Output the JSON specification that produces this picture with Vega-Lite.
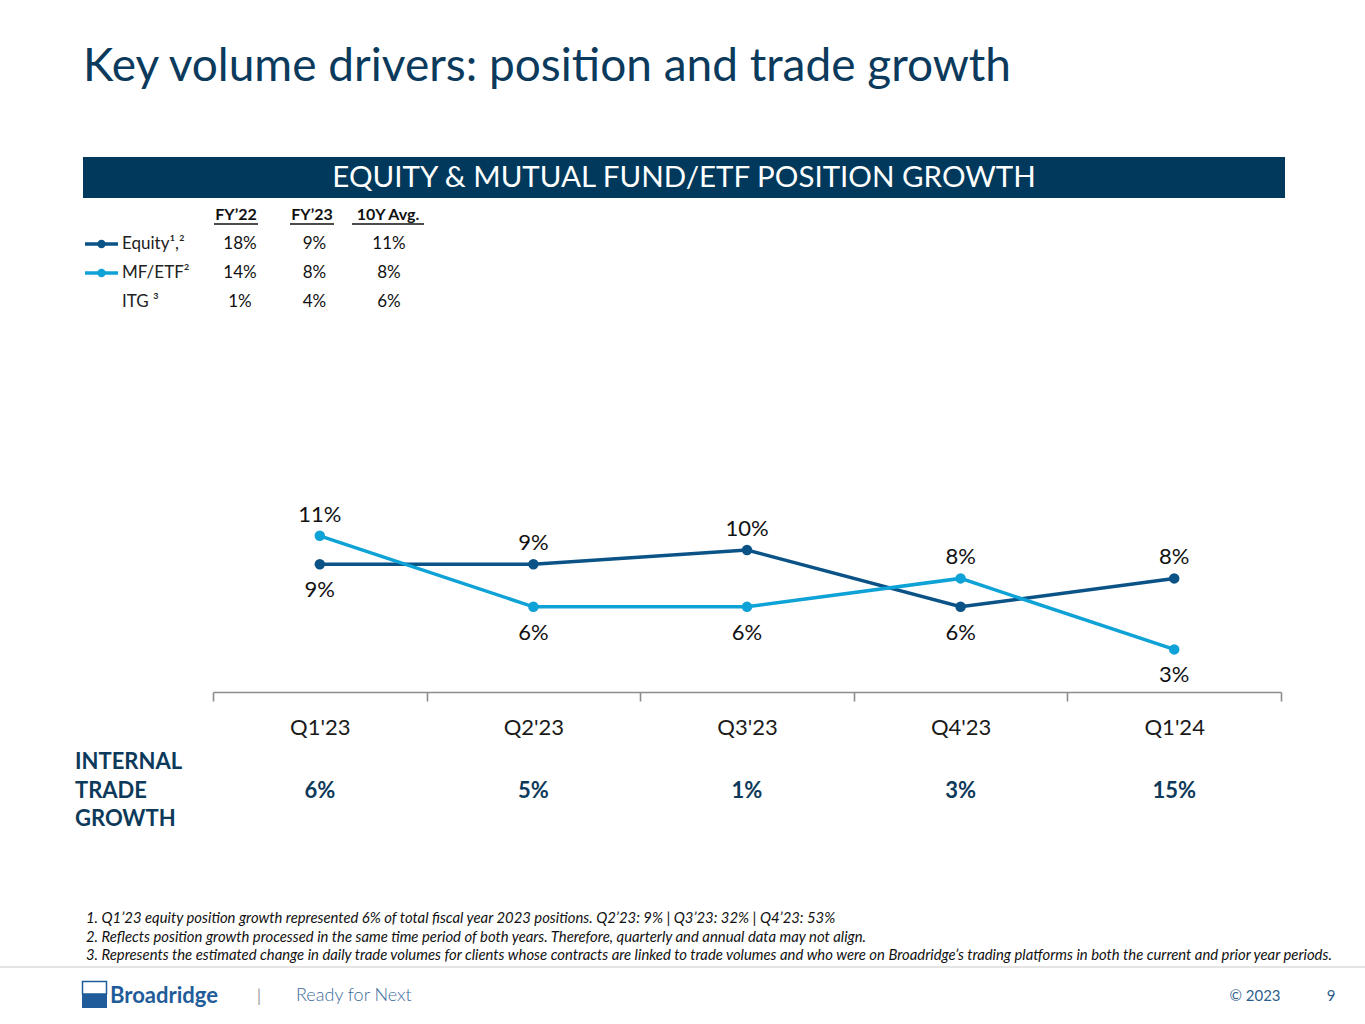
{
  "$schema": "https://vega.github.io/schema/vega-lite/v6.json",
  "width": 1365,
  "height": 1024,
  "padding": 0,
  "autosize": "none",
  "background": "white",
  "config": {
    "view": {"stroke": null},
    "text": {"font": "Lato"},
    "axis": {"labelFont": "Lato"}
  },
  "datasets": {
    "positions": [
      {"quarter": "Q1'23", "series": "Equity", "growth": 0.09},
      {"quarter": "Q2'23", "series": "Equity", "growth": 0.09},
      {"quarter": "Q3'23", "series": "Equity", "growth": 0.10},
      {"quarter": "Q4'23", "series": "Equity", "growth": 0.06},
      {"quarter": "Q1'24", "series": "Equity", "growth": 0.08},
      {"quarter": "Q1'23", "series": "MF/ETF", "growth": 0.11},
      {"quarter": "Q2'23", "series": "MF/ETF", "growth": 0.06},
      {"quarter": "Q3'23", "series": "MF/ETF", "growth": 0.06},
      {"quarter": "Q4'23", "series": "MF/ETF", "growth": 0.08},
      {"quarter": "Q1'24", "series": "MF/ETF", "growth": 0.03}
    ],
    "trade": [
      {"quarter": "Q1'23", "itg": 0.06},
      {"quarter": "Q2'23", "itg": 0.05},
      {"quarter": "Q3'23", "itg": 0.01},
      {"quarter": "Q4'23", "itg": 0.03},
      {"quarter": "Q1'24", "itg": 0.15}
    ],
    "fiscal": [
      {"series": "Equity", "label": "Equity¹,²", "period": "FY’22", "growth": 0.18},
      {"series": "Equity", "label": "Equity¹,²", "period": "FY’23", "growth": 0.09},
      {"series": "Equity", "label": "Equity¹,²", "period": "10Y Avg.", "growth": 0.11},
      {"series": "MF/ETF", "label": "MF/ETF²", "period": "FY’22", "growth": 0.14},
      {"series": "MF/ETF", "label": "MF/ETF²", "period": "FY’23", "growth": 0.08},
      {"series": "MF/ETF", "label": "MF/ETF²", "period": "10Y Avg.", "growth": 0.08},
      {"series": "ITG", "label": "ITG ³", "period": "FY’22", "growth": 0.01},
      {"series": "ITG", "label": "ITG ³", "period": "FY’23", "growth": 0.04},
      {"series": "ITG", "label": "ITG ³", "period": "10Y Avg.", "growth": 0.06}
    ],
    "notes": [
      {"n": 1, "text": "1. Q1’23 equity position growth represented 6% of total fiscal year 2023 positions. Q2’23: 9% | Q3’23: 32% | Q4’23: 53%"},
      {"n": 2, "text": "2. Reflects position growth processed in the same time period of both years. Therefore, quarterly and annual data may not align."},
      {"n": 3, "text": "3. Represents the estimated change in daily trade volumes for clients whose contracts are linked to trade volumes and who were on Broadridge’s trading platforms in both the current and prior year periods."}
    ]
  },
  "layer": [
    {
      "data": {"values": [{"text": "Key volume drivers: position and trade growth"}]},
      "mark": {"type": "text", "align": "left", "baseline": "alphabetic", "fontSize": 46, "color": "#0B3A5C"},
      "encoding": {
        "x": {"datum": 0, "type": "quantitative", "scale": {"domain": [0, 1], "range": [83, 1005]}, "axis": null},
        "y": {"datum": 0, "type": "quantitative", "scale": {"domain": [0, 1], "range": [81, 48]}, "axis": null},
        "text": {"field": "text"}
      }
    },
    {
      "data": {"values": [{"text": "EQUITY & MUTUAL FUND/ETF POSITION GROWTH"}]},
      "encoding": {
        "x": {"datum": 0, "type": "quantitative", "scale": {"domain": [0, 1], "range": [83, 1285]}, "axis": null},
        "y": {"datum": 0, "type": "quantitative", "scale": {"domain": [0, 1], "range": [157, 198]}, "axis": null}
      },
      "layer": [
        {
          "mark": {"type": "rect", "color": "#00395B"},
          "encoding": {"x2": {"datum": 1}, "y2": {"datum": 1}}
        },
        {
          "mark": {"type": "text", "fontSize": 29.5, "color": "white", "baseline": "middle"},
          "encoding": {
            "x": {"datum": 0.5, "type": "quantitative"},
            "y": {"datum": 0.52, "type": "quantitative"},
            "text": {"field": "text"}
          }
        }
      ]
    },
    {
      "data": {"name": "fiscal"},
      "encoding": {
        "y": {"field": "series", "type": "nominal", "scale": {"type": "point", "padding": 0, "domain": ["header", "Equity", "MF/ETF", "ITG"], "range": [215, 302]}, "axis": null},
        "color": {"field": "series", "type": "nominal", "scale": {"domain": ["Equity", "MF/ETF", "ITG"], "range": ["#0B5387", "#0EA2D6", "#ffffff"]}, "legend": null}
      },
      "layer": [
        {
          "transform": [{"filter": "datum.series == 'Equity'"}],
          "mark": {"type": "text", "fontSize": 16, "fontWeight": "bold", "baseline": "middle"},
          "encoding": {
            "x": {"field": "period", "type": "nominal", "sort": null, "scale": {"type": "point", "padding": 0, "domain": ["FY’22", "FY’23", "10Y Avg."], "range": [236, 388]}, "axis": null},
            "y": {"datum": "header"},
            "text": {"field": "period"},
            "color": {"value": "#111111"}
          }
        },
        {
          "transform": [{"filter": "datum.series == 'Equity' && datum.period != '10Y Avg.'"}],
          "mark": {"type": "rule", "strokeWidth": 1.3, "xOffset": -22, "x2Offset": 22, "yOffset": 9},
          "encoding": {
            "x": {"field": "period", "type": "nominal", "sort": null, "scale": {"type": "point", "padding": 0, "domain": ["FY’22", "FY’23", "10Y Avg."], "range": [236, 388]}, "axis": null},
            "x2": {"field": "period"},
            "y": {"datum": "header"},
            "color": {"value": "#111111"}
          }
        },
        {
          "transform": [{"filter": "datum.series == 'Equity' && datum.period == '10Y Avg.'"}],
          "mark": {"type": "rule", "strokeWidth": 1.3, "xOffset": -36, "x2Offset": 36, "yOffset": 9},
          "encoding": {
            "x": {"field": "period", "type": "nominal", "sort": null, "scale": {"type": "point", "padding": 0, "domain": ["FY’22", "FY’23", "10Y Avg."], "range": [236, 388]}, "axis": null},
            "x2": {"field": "period"},
            "y": {"datum": "header"},
            "color": {"value": "#111111"}
          }
        },
        {
          "mark": {"type": "text", "fontSize": 17, "baseline": "middle"},
          "encoding": {
            "x": {"field": "period", "type": "nominal", "sort": null, "scale": {"type": "point", "padding": 0, "domain": ["FY’22", "FY’23", "10Y Avg."], "range": [240, 389]}, "axis": null},
            "text": {"field": "growth", "type": "quantitative", "format": ".0%"},
            "color": {"value": "#111111"}
          }
        },
        {
          "transform": [{"filter": "datum.period == 'FY’22'"}],
          "mark": {"type": "text", "fontSize": 17, "align": "left", "baseline": "middle"},
          "encoding": {
            "x": {"datum": 0, "type": "quantitative", "scale": {"domain": [0, 1], "range": [122, 200]}, "axis": null},
            "text": {"field": "label"},
            "color": {"value": "#222222"}
          }
        },
        {
          "transform": [{"filter": "datum.period == 'FY’22' && datum.series != 'ITG'"}],
          "mark": {"type": "rule", "strokeWidth": 3.5},
          "encoding": {
            "x": {"datum": 0, "type": "quantitative", "scale": {"domain": [0, 1], "range": [85, 118]}, "axis": null},
            "x2": {"datum": 1}
          }
        },
        {
          "transform": [{"filter": "datum.period == 'FY’22' && datum.series != 'ITG'"}],
          "mark": {"type": "point", "filled": true, "opacity": 1, "size": 70},
          "encoding": {
            "x": {"datum": 0.5, "type": "quantitative", "scale": {"domain": [0, 1], "range": [85, 118]}, "axis": null}
          }
        }
      ],
      "resolve": {"scale": {"x": "independent"}}
    },
    {
      "data": {"name": "positions"},
      "encoding": {
        "x": {
          "field": "quarter",
          "type": "nominal",
          "sort": null,
          "bandPosition": 0.5,
          "scale": {"type": "band", "domain": ["Q1'23", "Q2'23", "Q3'23", "Q4'23", "Q1'24"], "range": [213, 1281], "paddingInner": 0, "paddingOuter": 0},
          "axis": {
            "title": null,
            "orient": "bottom",
            "offset": -332,
            "labelAngle": 0,
            "labelFontSize": 22,
            "labelColor": "#1a1a1a",
            "labelPadding": 16,
            "domainColor": "#8c8c8c",
            "domainWidth": 1.6,
            "tickColor": "#8c8c8c",
            "tickWidth": 1.6,
            "tickSize": 9,
            "tickBand": "extent",
            "grid": false
          }
        },
        "y": {"field": "growth", "type": "quantitative", "scale": {"domain": [0, 0.12], "range": [692, 521.6]}, "axis": null},
        "color": {"field": "series", "type": "nominal", "scale": {"domain": ["Equity", "MF/ETF"], "range": ["#0B5387", "#0EA2D6"]}, "legend": null}
      },
      "layer": [
        {
          "mark": {"type": "line", "strokeWidth": 3.5, "point": {"filled": true, "size": 110, "opacity": 1}}
        },
        {
          "transform": [
            {"joinaggregate": [{"op": "max", "field": "growth", "as": "top"}], "groupby": ["quarter"]},
            {"filter": "datum.growth == datum.top"}
          ],
          "mark": {"type": "text", "fontSize": 22, "baseline": "middle", "dy": -21},
          "encoding": {"text": {"field": "growth", "type": "quantitative", "format": ".0%"}, "color": {"value": "#111111"}}
        },
        {
          "transform": [
            {"joinaggregate": [{"op": "max", "field": "growth", "as": "top"}], "groupby": ["quarter"]},
            {"filter": "datum.growth < datum.top"}
          ],
          "mark": {"type": "text", "fontSize": 22, "baseline": "middle", "dy": 26},
          "encoding": {"text": {"field": "growth", "type": "quantitative", "format": ".0%"}, "color": {"value": "#111111"}}
        }
      ]
    },
    {
      "data": {"name": "trade"},
      "mark": {"type": "text", "fontSize": 22, "fontWeight": "bold", "baseline": "middle", "color": "#0D3A5A"},
      "encoding": {
        "x": {"field": "quarter", "type": "nominal", "sort": null, "bandPosition": 0.5, "scale": {"type": "band", "domain": ["Q1'23", "Q2'23", "Q3'23", "Q4'23", "Q1'24"], "range": [213, 1281], "paddingInner": 0, "paddingOuter": 0}, "axis": null},
        "y": {"datum": 0, "type": "quantitative", "scale": {"domain": [0, 1], "range": [791, 700]}, "axis": null},
        "text": {"field": "itg", "type": "quantitative", "format": ".0%"}
      }
    },
    {
      "data": {"values": [{"text": "INTERNAL TRADE GROWTH"}]},
      "mark": {"type": "text", "fontSize": 22, "fontWeight": "bold", "align": "left", "baseline": "middle", "lineBreak": " ", "lineHeight": 28.5, "color": "#0D3A5A"},
      "encoding": {
        "x": {"datum": 0, "type": "quantitative", "scale": {"domain": [0, 1], "range": [75, 190]}, "axis": null},
        "y": {"datum": 0, "type": "quantitative", "scale": {"domain": [0, 1], "range": [762, 700]}, "axis": null},
        "text": {"field": "text"}
      }
    },
    {
      "data": {"name": "notes"},
      "mark": {"type": "text", "fontSize": 14.85, "fontStyle": "italic", "align": "left", "baseline": "middle", "color": "#111111"},
      "encoding": {
        "x": {"datum": 0, "type": "quantitative", "scale": {"domain": [0, 1], "range": [86, 1330]}, "axis": null},
        "y": {"field": "n", "type": "ordinal", "scale": {"type": "point", "padding": 0, "domain": [1, 2, 3], "range": [919, 956]}, "axis": null},
        "text": {"field": "text"}
      }
    },
    {
      "data": {"values": [{"part": "footer"}]},
      "mark": {"type": "rule", "color": "#c9c9c9", "strokeWidth": 1},
      "encoding": {
        "x": {"datum": 0, "type": "quantitative", "scale": {"domain": [0, 1], "range": [0, 1365]}, "axis": null},
        "x2": {"datum": 1},
        "y": {"datum": 0, "type": "quantitative", "scale": {"domain": [0, 1], "range": [967, 900]}, "axis": null}
      }
    },
    {
      "data": {"values": [{"part": "logo"}]},
      "mark": {"type": "rect", "color": "#1F5C99"},
      "encoding": {
        "x": {"datum": 0, "type": "quantitative", "scale": {"domain": [0, 1], "range": [82, 107]}, "axis": null},
        "x2": {"datum": 1},
        "y": {"datum": 0, "type": "quantitative", "scale": {"domain": [0, 1], "range": [994, 1008]}, "axis": null},
        "y2": {"datum": 1}
      }
    },
    {
      "data": {"values": [{"part": "logo"}]},
      "mark": {"type": "rect", "fill": "white", "stroke": "#1F5C99", "strokeWidth": 1.5},
      "encoding": {
        "x": {"datum": 0, "type": "quantitative", "scale": {"domain": [0, 1], "range": [82.5, 106.5]}, "axis": null},
        "x2": {"datum": 1},
        "y": {"datum": 0, "type": "quantitative", "scale": {"domain": [0, 1], "range": [981.5, 994]}, "axis": null},
        "y2": {"datum": 1}
      }
    },
    {
      "data": {"values": [{"text": "Broadridge"}]},
      "mark": {"type": "text", "fontSize": 22, "fontWeight": "bold", "align": "left", "baseline": "middle", "color": "#1F5C99"},
      "encoding": {
        "x": {"datum": 0, "type": "quantitative", "scale": {"domain": [0, 1], "range": [110, 222]}, "axis": null},
        "y": {"datum": 0, "type": "quantitative", "scale": {"domain": [0, 1], "range": [996, 900]}, "axis": null},
        "text": {"field": "text"}
      }
    },
    {
      "data": {"values": [{"text": "|"}]},
      "mark": {"type": "text", "fontSize": 18, "align": "center", "baseline": "middle", "color": "#a6a6a6"},
      "encoding": {
        "x": {"datum": 0, "type": "quantitative", "scale": {"domain": [0, 1], "range": [259, 300]}, "axis": null},
        "y": {"datum": 0, "type": "quantitative", "scale": {"domain": [0, 1], "range": [997, 900]}, "axis": null},
        "text": {"field": "text"}
      }
    },
    {
      "data": {"values": [{"text": "Ready for Next"}]},
      "mark": {"type": "text", "fontSize": 18, "fontWeight": 300, "align": "left", "baseline": "middle", "color": "#3D6D9B"},
      "encoding": {
        "x": {"datum": 0, "type": "quantitative", "scale": {"domain": [0, 1], "range": [296, 410]}, "axis": null},
        "y": {"datum": 0, "type": "quantitative", "scale": {"domain": [0, 1], "range": [996, 900]}, "axis": null},
        "text": {"field": "text"}
      }
    },
    {
      "data": {"values": [{"text": "© 2023"}, {"text": "9"}]},
      "mark": {"type": "text", "fontSize": 15, "align": "center", "baseline": "middle", "color": "#2E5F8E"},
      "encoding": {
        "x": {"field": "text", "type": "nominal", "sort": null, "scale": {"type": "point", "padding": 0, "domain": ["© 2023", "9"], "range": [1255, 1331]}, "axis": null},
        "y": {"datum": 0, "type": "quantitative", "scale": {"domain": [0, 1], "range": [996, 900]}, "axis": null},
        "text": {"field": "text"}
      }
    }
  ],
  "resolve": {"scale": {"x": "independent", "y": "independent", "color": "independent"}}
}
